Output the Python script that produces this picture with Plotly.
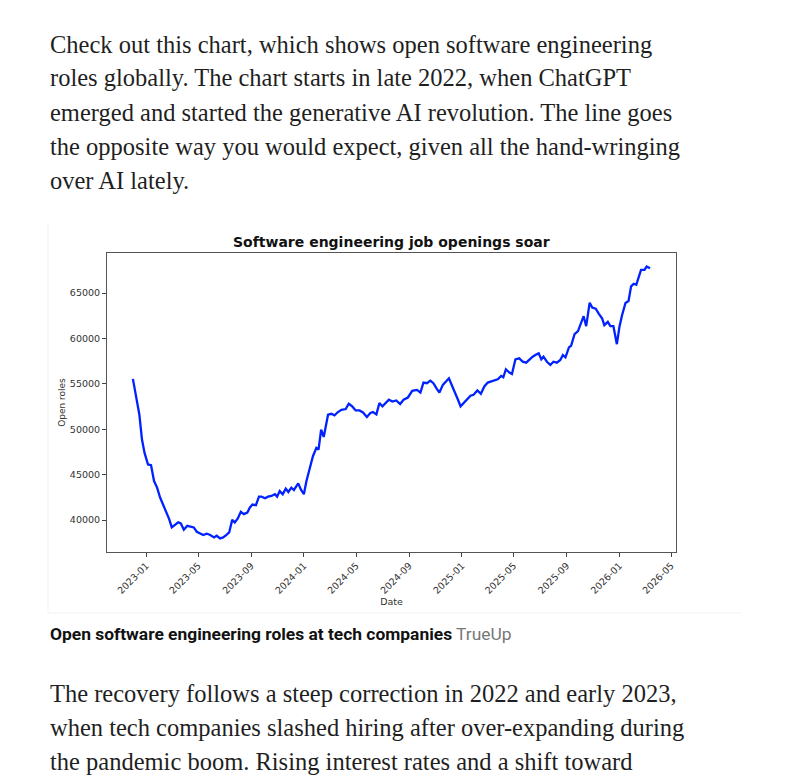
import plotly.graph_objects as go

# ---------------- data ----------------
dates = [
    "2022-12-01", "2022-12-09", "2022-12-16", "2022-12-22", "2022-12-28",
    "2023-01-05", "2023-01-12", "2023-01-19", "2023-01-26", "2023-02-02",
    "2023-02-10", "2023-02-17", "2023-02-23", "2023-03-01", "2023-03-09",
    "2023-03-16", "2023-03-22", "2023-03-29", "2023-04-06", "2023-04-16",
    "2023-04-21", "2023-04-28", "2023-05-05", "2023-05-13", "2023-05-21",
    "2023-05-28", "2023-06-07", "2023-06-13", "2023-06-21", "2023-06-28",
    "2023-07-05", "2023-07-12", "2023-07-19", "2023-07-25", "2023-08-01",
    "2023-08-08", "2023-08-15", "2023-08-23", "2023-08-29", "2023-09-04",
    "2023-09-12", "2023-09-19", "2023-09-25", "2023-10-03", "2023-10-10",
    "2023-10-18", "2023-10-26", "2023-10-31", "2023-11-06", "2023-11-13",
    "2023-11-20", "2023-11-26", "2023-12-03", "2023-12-09", "2023-12-19",
    "2023-12-25", "2024-01-01", "2024-01-07", "2024-01-15", "2024-01-22",
    "2024-01-30", "2024-02-04", "2024-02-10", "2024-02-16", "2024-02-26",
    "2024-03-05", "2024-03-12", "2024-03-20", "2024-03-28", "2024-04-07",
    "2024-04-14", "2024-04-22", "2024-04-30", "2024-05-09", "2024-05-17",
    "2024-05-26", "2024-06-03", "2024-06-09", "2024-06-17", "2024-06-24",
    "2024-07-01", "2024-07-08", "2024-07-16", "2024-07-24", "2024-08-02",
    "2024-08-11", "2024-08-19", "2024-08-29", "2024-09-08", "2024-09-19",
    "2024-09-27", "2024-10-04", "2024-10-12", "2024-10-20", "2024-10-27",
    "2024-11-04", "2024-11-10", "2024-11-18", "2024-11-26", "2024-12-02",
    "2024-12-10", "2024-12-17", "2024-12-23", "2024-12-29", "2025-01-05",
    "2025-01-14", "2025-01-21", "2025-01-28", "2025-02-06", "2025-02-14",
    "2025-02-22", "2025-03-02", "2025-03-10", "2025-03-17", "2025-03-25",
    "2025-04-02", "2025-04-07", "2025-04-13", "2025-04-21", "2025-04-27",
    "2025-05-05", "2025-05-14", "2025-05-22", "2025-05-30", "2025-06-06",
    "2025-06-14", "2025-06-23", "2025-06-28", "2025-07-04", "2025-07-09",
    "2025-07-17", "2025-07-25", "2025-08-01", "2025-08-09", "2025-08-17",
    "2025-08-23", "2025-08-29", "2025-09-06", "2025-09-11", "2025-09-19",
    "2025-09-27", "2025-10-04", "2025-10-10", "2025-10-16", "2025-10-24",
    "2025-10-30", "2025-11-07", "2025-11-14", "2025-11-22", "2025-11-27",
    "2025-12-05", "2025-12-11", "2025-12-18", "2025-12-26", "2026-01-01",
    "2026-01-07", "2026-01-15", "2026-01-22", "2026-01-28", "2026-02-03",
    "2026-02-09", "2026-02-20", "2026-02-28", "2026-03-05", "2026-03-13",
]
open_roles = [
    55550, 53250, 51600, 48870, 47400,
    46130, 46050, 44300, 43580, 42490,
    41570, 40660, 40110, 39200, 39450,
    39750, 39640, 38940, 39380, 39270,
    39200, 38720, 38550, 38360, 38500,
    38390, 38100, 38280, 37990, 38100,
    38360, 38650, 40030, 39750, 40180,
    40910, 40660, 40840, 41390, 41720,
    41640, 42590, 42590, 42410, 42590,
    42660, 42850, 42590, 43210, 42850,
    43470, 43100, 43580, 43320, 44050,
    43390, 42850, 44310, 45770, 47040,
    47960, 47770, 49960, 49160, 51600,
    51710, 51530, 51900, 52150, 52230,
    52810, 52520, 52080, 52080, 51860,
    51350, 51790, 51900, 51640, 52890,
    52520, 52890, 53250, 53060, 53170,
    52780, 53250, 53500, 54230, 54340,
    54050, 55140, 55070, 55360, 55070,
    54450, 54050, 54890, 55250, 55620,
    54710, 53800, 53250, 52520, 52890,
    53320, 53690, 53800, 54270, 53910,
    54710, 55140, 55250, 55330, 55510,
    55880, 55730, 56610, 56240, 56090,
    57700, 57810, 57440, 57330, 57630,
    57990, 58250, 58360, 57700, 57990,
    57440, 57080, 57440, 57330, 57630,
    58170, 57920, 59020, 59200, 60480,
    60810, 61830, 62450, 61350, 63940,
    63390, 63280, 62740, 62190, 61460,
    61830, 61350, 61350, 59370, 61280,
    62560, 63900, 64120, 65730, 66020,
    65910, 67550, 67550, 67910, 67730,
]
x_tick_vals = ["2023-01-01", "2023-05-01", "2023-09-01", "2024-01-01",
               "2024-05-01", "2024-09-01", "2025-01-01", "2025-05-01",
               "2025-09-01", "2026-01-01", "2026-05-01"]
x_tick_text = ["2023-01", "2023-05", "2023-09", "2024-01", "2024-05",
               "2024-09", "2025-01", "2025-05", "2025-09", "2026-01", "2026-05"]
y_tick_vals = [40000, 45000, 50000, 55000, 60000, 65000]

chart_title = "Software engineering job openings soar"
x_title = "Date"
y_title = "Open roles"
intro_lines = [
    "Check out this chart, which shows open software engineering",
    "roles globally. The chart starts in late 2022, when ChatGPT",
    "emerged and started the generative AI revolution. The line goes",
    "the opposite way you would expect, given all the hand-wringing",
    "over AI lately.",
]
caption_main = "Open software engineering roles at tech companies"
caption_source = "TrueUp"
outro_lines = [
    "The recovery follows a steep correction in 2022 and early 2023,",
    "when tech companies slashed hiring after over-expanding during",
    "the pandemic boom. Rising interest rates and a shift toward",
]

# ---------------- layout geometry (pixels) ----------------
W, H = 789, 777
PL, PR, PT, PB = 107, 676, 253, 552   # plot area box
pw, ph = PR - PL, PB - PT


def px(x):
    return (x - PL) / pw


def py(y):
    return (PB - y) / ph


fig = go.Figure()
fig.add_trace(go.Scatter(
    x=dates, y=open_roles, mode="lines",
    line=dict(color="#0022ff", width=2.3),
    showlegend=False, hoverinfo="skip",
))

axis_font = dict(family="DejaVu Sans", size=9.5, color="#333333")

fig.update_layout(
    width=W, height=H,
    margin=dict(l=PL, r=W - PR, t=PT, b=H - PB, pad=0),
    paper_bgcolor="white", plot_bgcolor="white",
    xaxis=dict(
        range=["2022-10-02", "2026-05-12"],
        tickmode="array", tickvals=x_tick_vals, ticktext=x_tick_text,
        tickangle=-45, tickfont=axis_font,
        ticks="outside", ticklen=3.5, tickcolor="#444444", tickwidth=1,
        showline=True, linecolor="#555555", linewidth=1, mirror=True,
        showgrid=False, zeroline=False,
        title=dict(text=x_title, font=dict(family="DejaVu Sans", size=9.5, color="#333333"), standoff=3),
    ),
    yaxis=dict(
        range=[36494, 69406],
        tickmode="array", tickvals=y_tick_vals, tickformat="d",
        tickfont=axis_font,
        ticks="outside", ticklen=4, tickcolor="#444444", tickwidth=1,
        showline=True, linecolor="#555555", linewidth=1, mirror=True,
        showgrid=False, zeroline=False,
        title=dict(text=y_title, font=dict(family="DejaVu Sans", size=9, color="#333333"), standoff=2),
    ),
)

annotations = []
# chart title
annotations.append(dict(
    text="<b>" + chart_title + "</b>", x=0.5, y=py(242), xref="paper", yref="paper",
    xanchor="center", yanchor="middle", showarrow=False,
    font=dict(family="DejaVu Sans", size=14, color="#111111"),
))
# intro paragraph
for i, line in enumerate(intro_lines):
    annotations.append(dict(
        text=line, x=px(48), y=py(44 + i * 34), xref="paper", yref="paper",
        xanchor="left", yanchor="middle", showarrow=False,
        font=dict(family="Liberation Serif", size=24.5, color="#1f1f1f"),
    ))
# caption
annotations.append(dict(
    text="<b>" + caption_main + "</b> <span style='color:#777777'>" + caption_source + "</span>",
    x=px(48), y=py(634), xref="paper", yref="paper",
    xanchor="left", yanchor="middle", showarrow=False,
    font=dict(family="Roboto", size=17.4, color="#111111"),
))
# outro paragraph
for i, line in enumerate(outro_lines):
    annotations.append(dict(
        text=line, x=px(48), y=py(693 + i * 34), xref="paper", yref="paper",
        xanchor="left", yanchor="middle", showarrow=False,
        font=dict(family="Liberation Serif", size=24.5, color="#1f1f1f"),
    ))
fig.update_layout(annotations=annotations)

# faint edge of the embedded chart image
fig.add_shape(type="line", xref="paper", yref="paper",
              x0=px(48), x1=px(742), y0=py(613), y1=py(613),
              line=dict(color="#f3f3f3", width=1), layer="below")
fig.add_shape(type="line", xref="paper", yref="paper",
              x0=px(48), x1=px(48), y0=py(613), y1=py(222),
              line=dict(color="#f3f3f3", width=1), layer="below")

fig.write_html("out.html")
